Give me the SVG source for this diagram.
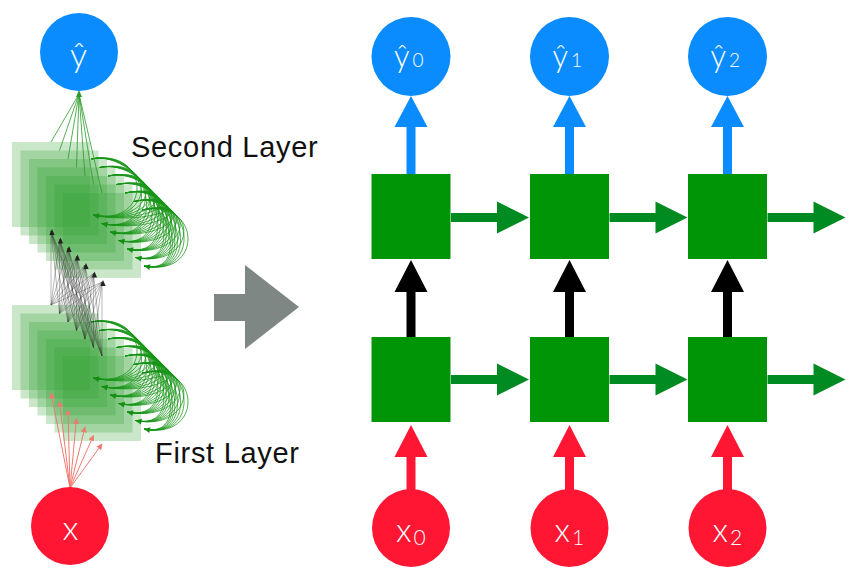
<svg xmlns="http://www.w3.org/2000/svg" xmlns:xlink="http://www.w3.org/1999/xlink" width="849" height="582" viewBox="0 0 849 582">
<style>
.blue{fill:#0a8cff}
.red{fill:#ff1633}
.cell{fill:#009407}
.garr{fill:#008b22}
.karr{fill:#000}
.barr{fill:#0a8cff}
.rarr{fill:#ff1633}
.sq{fill:#2ca02c;fill-opacity:0.25}
.lbl{font-family:"Liberation Sans","Helvetica Neue",Arial,sans-serif;font-size:29px;letter-spacing:0.7px;fill:#111}
.sym{font-family:Lato,"Open Sans","DejaVu Sans",sans-serif;font-weight:300;fill:#fff}
.loop{fill:none;stroke:#169416;stroke-opacity:0.75;stroke-width:1}
.mesh{fill:none;stroke:#333;stroke-opacity:0.5;stroke-width:0.7}
.outl{fill:none;stroke:#2a9a2a;stroke-width:0.8}
.inl{fill:none;stroke:#f07a70;stroke-width:1}
</style>
<defs>
<marker id="mr" viewBox="0 0 10 10" refX="9" refY="5" markerWidth="6" markerHeight="6" markerUnits="userSpaceOnUse" orient="auto">
<path d="M0 0L10 5L0 10Z" fill="#f07a70"/>
</marker>
<path id="gh" d="M0 0L5.3 4.1L6.5 -1.7Z" fill="#138f13"/>
<path id="kh" d="M0 0L-2.6 6L2.6 6Z" fill="#222"/>
<g id="stack">
<rect class="sq" x="12" y="142" width="78" height="85"/>
<rect class="sq" x="20.5" y="150.5" width="78" height="85"/>
<rect class="sq" x="29" y="159" width="78" height="85"/>
<rect class="sq" x="37.5" y="167.5" width="78" height="85"/>
<rect class="sq" x="46" y="176" width="78" height="85"/>
<rect class="sq" x="54.5" y="184.5" width="78" height="85"/>
<rect class="sq" x="63" y="193" width="78" height="85"/>
</g>
<g id="loops">
<path class="loop" d="M91 159C151 147 153 227 93 215M91 159C151 147 161.5 235.5 101.5 223.5M91 159C151 147 170 244 110 232M91 159C151 147 178.5 252.5 118.5 240.5M91 159C151 147 187 261 127 249M91 159C151 147 195.5 269.5 135.5 257.5M91 159C151 147 204 278 144 266
M99.5 167.5C159.5 155.5 153 227 93 215M99.5 167.5C159.5 155.5 161.5 235.5 101.5 223.5M99.5 167.5C159.5 155.5 170 244 110 232M99.5 167.5C159.5 155.5 178.5 252.5 118.5 240.5M99.5 167.5C159.5 155.5 187 261 127 249M99.5 167.5C159.5 155.5 195.5 269.5 135.5 257.5M99.5 167.5C159.5 155.5 204 278 144 266
M108 176C168 164 153 227 93 215M108 176C168 164 161.5 235.5 101.5 223.5M108 176C168 164 170 244 110 232M108 176C168 164 178.5 252.5 118.5 240.5M108 176C168 164 187 261 127 249M108 176C168 164 195.5 269.5 135.5 257.5M108 176C168 164 204 278 144 266
M116.5 184.5C176.5 172.5 153 227 93 215M116.5 184.5C176.5 172.5 161.5 235.5 101.5 223.5M116.5 184.5C176.5 172.5 170 244 110 232M116.5 184.5C176.5 172.5 178.5 252.5 118.5 240.5M116.5 184.5C176.5 172.5 187 261 127 249M116.5 184.5C176.5 172.5 195.5 269.5 135.5 257.5M116.5 184.5C176.5 172.5 204 278 144 266
M125 193C185 181 153 227 93 215M125 193C185 181 161.5 235.5 101.5 223.5M125 193C185 181 170 244 110 232M125 193C185 181 178.5 252.5 118.5 240.5M125 193C185 181 187 261 127 249M125 193C185 181 195.5 269.5 135.5 257.5M125 193C185 181 204 278 144 266
M133.5 201.5C193.5 189.5 153 227 93 215M133.5 201.5C193.5 189.5 161.5 235.5 101.5 223.5M133.5 201.5C193.5 189.5 170 244 110 232M133.5 201.5C193.5 189.5 178.5 252.5 118.5 240.5M133.5 201.5C193.5 189.5 187 261 127 249M133.5 201.5C193.5 189.5 195.5 269.5 135.5 257.5M133.5 201.5C193.5 189.5 204 278 144 266
M142 210C202 198 153 227 93 215M142 210C202 198 161.5 235.5 101.5 223.5M142 210C202 198 170 244 110 232M142 210C202 198 178.5 252.5 118.5 240.5M142 210C202 198 187 261 127 249M142 210C202 198 195.5 269.5 135.5 257.5M142 210C202 198 204 278 144 266"/>
<use xlink:href="#gh" href="#gh" x="93" y="215"/>
<use xlink:href="#gh" href="#gh" x="101.5" y="223.5"/>
<use xlink:href="#gh" href="#gh" x="110" y="232"/>
<use xlink:href="#gh" href="#gh" x="118.5" y="240.5"/>
<use xlink:href="#gh" href="#gh" x="127" y="249"/>
<use xlink:href="#gh" href="#gh" x="135.5" y="257.5"/>
<use xlink:href="#gh" href="#gh" x="144" y="266"/>
</g>
</defs>

<g id="first-layer">
<use xlink:href="#stack" href="#stack" transform="translate(0,163)"/>
</g>
<g id="second-layer">
<use xlink:href="#stack" href="#stack"/>
</g>

<g id="connectors">
<use xlink:href="#loops" href="#loops"/>
<use xlink:href="#loops" href="#loops" transform="translate(0,163)"/>
<path class="mesh" d="M51 305L51 231M51 305L59.5 239.5M51 305L68 248M51 305L76.5 256.5M51 305L85 265M51 305L93.5 273.5M51 305L102 282
M59.5 313.5L51 231M59.5 313.5L59.5 239.5M59.5 313.5L68 248M59.5 313.5L76.5 256.5M59.5 313.5L85 265M59.5 313.5L93.5 273.5M59.5 313.5L102 282
M68 322L51 231M68 322L59.5 239.5M68 322L68 248M68 322L76.5 256.5M68 322L85 265M68 322L93.5 273.5M68 322L102 282
M76.5 330.5L51 231M76.5 330.5L59.5 239.5M76.5 330.5L68 248M76.5 330.5L76.5 256.5M76.5 330.5L85 265M76.5 330.5L93.5 273.5M76.5 330.5L102 282
M85 339L51 231M85 339L59.5 239.5M85 339L68 248M85 339L76.5 256.5M85 339L85 265M85 339L93.5 273.5M85 339L102 282
M93.5 347.5L51 231M93.5 347.5L59.5 239.5M93.5 347.5L68 248M93.5 347.5L76.5 256.5M93.5 347.5L85 265M93.5 347.5L93.5 273.5M93.5 347.5L102 282
M102 356L51 231M102 356L59.5 239.5M102 356L68 248M102 356L76.5 256.5M102 356L85 265M102 356L93.5 273.5M102 356L102 282"/>
<use xlink:href="#kh" href="#kh" x="52" y="229"/>
<use xlink:href="#kh" href="#kh" x="60.5" y="237.5"/>
<use xlink:href="#kh" href="#kh" x="69" y="246"/>
<use xlink:href="#kh" href="#kh" x="77.5" y="254.5"/>
<use xlink:href="#kh" href="#kh" x="86" y="263"/>
<use xlink:href="#kh" href="#kh" x="94.5" y="271.5"/>
<use xlink:href="#kh" href="#kh" x="103" y="280"/>
<path class="outl" d="M51 142L79 94M59.5 150.5L79 94M68 159L79 94M76.5 167.5L79 94M85 176L79 94M93.5 184.5L79 94M102 193L79 94"/>
<path d="M79 90L76 97L82 97Z" fill="#2a9a2a"/>
<g class="inl" marker-end="url(#mr)">
<line x1="70" y1="488" x2="51" y2="393"/>
<line x1="70" y1="488" x2="59.5" y2="401.5"/>
<line x1="70" y1="488" x2="68" y2="410"/>
<line x1="70" y1="488" x2="76.5" y2="418.5"/>
<line x1="70" y1="488" x2="85" y2="427"/>
<line x1="70" y1="488" x2="93.5" y2="435.5"/>
<line x1="70" y1="488" x2="102" y2="444"/>
</g>
<path d="M214 294H245V265L299 307L245 349V321H214Z" fill="#7f8785"/>
<path class="barr" d="M406.5 174V127H394.5L411 96L427.5 127H415.5V174Z"/>
<path class="barr" d="M565 174V127H553L569.5 96L586 127H574V174Z"/>
<path class="barr" d="M723 174V127H711L727.5 96L744 127H732V174Z"/>
<path class="karr" d="M406.5 337V292H394.5L411 260L427.5 292H415.5V337Z"/>
<path class="karr" d="M565 337V292H553L569.5 260L586 292H574V337Z"/>
<path class="karr" d="M723 337V292H711L727.5 260L744 292H732V337Z"/>
<path class="rarr" d="M406.5 490V457H394.5L411 425L427.5 457H415.5V490Z"/>
<path class="rarr" d="M565 490V457H553L569.5 425L586 457H574V490Z"/>
<path class="rarr" d="M723 490V457H711L727.5 425L744 457H732V490Z"/>
<path class="garr" d="M451 213H497V201.5L529 217.5L497 233.5V222H451Z"/>
<path class="garr" d="M609.5 213H655.5V201.5L687.5 217.5L655.5 233.5V222H609.5Z"/>
<path class="garr" d="M767.5 213H813.5V201.5L845.5 217.5L813.5 233.5V222H767.5Z"/>
<path class="garr" d="M451 375H497V363.5L529 379.5L497 395.5V384H451Z"/>
<path class="garr" d="M609.5 375H655.5V363.5L687.5 379.5L655.5 395.5V384H609.5Z"/>
<path class="garr" d="M767.5 375H813.5V363.5L845.5 379.5L813.5 395.5V384H767.5Z"/>
</g>

<g id="left-yhat">
<circle class="blue" cx="79" cy="52" r="39"/>
<text class="sym" x="78.5" y="67" font-size="34" text-anchor="middle">ŷ</text>
</g>
<g id="left-x">
<circle class="red" cx="70" cy="526" r="39"/>
<text class="sym" x="70.5" y="540" font-size="34" text-anchor="middle">x</text>
</g>
<g id="label-second">
<text class="lbl" x="131" y="157">Second Layer</text>
</g>
<g id="label-first">
<text class="lbl" x="155" y="463">First Layer</text>
</g>

<g id="y0"><circle class="blue" cx="411" cy="56.5" r="39.5"/><text class="sym" y="67"><tspan x="394" font-size="31">ŷ</tspan><tspan x="412.5" font-size="19">0</tspan></text></g>
<g id="y1"><circle class="blue" cx="569.5" cy="56.5" r="39.5"/><text class="sym" y="67"><tspan x="552.5" font-size="31">ŷ</tspan><tspan x="571" font-size="19">1</tspan></text></g>
<g id="y2"><circle class="blue" cx="727.5" cy="56.5" r="39.5"/><text class="sym" y="67"><tspan x="710.5" font-size="31">ŷ</tspan><tspan x="729" font-size="19">2</tspan></text></g>

<g id="h2-0"><rect class="cell" x="371.5" y="174" width="79" height="85"/></g>
<g id="h2-1"><rect class="cell" x="530" y="174" width="79" height="85"/></g>
<g id="h2-2"><rect class="cell" x="688" y="174" width="79" height="85"/></g>
<g id="h1-0"><rect class="cell" x="371.5" y="337" width="79" height="85"/></g>
<g id="h1-1"><rect class="cell" x="530" y="337" width="79" height="85"/></g>
<g id="h1-2"><rect class="cell" x="688" y="337" width="79" height="85"/></g>

<g id="x0"><circle class="red" cx="411" cy="528" r="39"/><text class="sym"><tspan x="396" y="542" font-size="33">x</tspan><tspan x="413.5" y="545" font-size="21">0</tspan></text></g>
<g id="x1"><circle class="red" cx="569.5" cy="528" r="39"/><text class="sym"><tspan x="554.5" y="542" font-size="33">x</tspan><tspan x="572" y="545" font-size="21">1</tspan></text></g>
<g id="x2"><circle class="red" cx="727.5" cy="528" r="39"/><text class="sym"><tspan x="712.5" y="542" font-size="33">x</tspan><tspan x="730" y="545" font-size="21">2</tspan></text></g>
</svg>
